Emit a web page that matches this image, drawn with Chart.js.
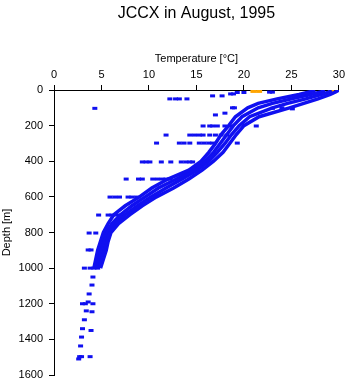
<!doctype html>
<html lang="en">

<head>
    <meta charset="utf-8">
    <title>JCCX in August, 1995</title>
    <script src="https://cdn.jsdelivr.net/npm/chart.js"></script>
    <style>
        body {
            margin: 0;
            background: #ffffff;
        }
    </style>
</head>

<body>
    <canvas id="profile" width="348" height="384"></canvas>

    <script>
        // depth levels [m] shared by the casts
        const depths = [0, 10, 25, 50, 75, 100, 150, 200, 250, 300, 350, 400, 450, 500, 550, 600, 650, 700, 750, 800, 850, 900, 950, 1000];
        // temperature [degC] of four casts at those levels
        const castA = [27.5, 27.0, 25.8, 23.5, 21.5, 20.4, 19.1, 18.4, 17.6, 17.0, 16.3, 15.5, 14.2, 12.0, 10.3, 9.0, 7.5, 6.3, 5.7, 5.2, 4.9, 4.6, 4.4, 4.2];
        const castB = [28.5, 28.2, 27.0, 25.0, 23.0, 21.5, 19.8, 18.9, 18.2, 17.5, 16.8, 15.9, 14.7, 12.9, 11.0, 9.6, 8.2, 7.0, 6.1, 5.5, 5.2, 4.9, 4.6, 4.4];
        const castC = [29.2, 29.0, 28.2, 26.5, 24.6, 23.0, 20.6, 19.5, 18.7, 18.0, 17.2, 16.3, 15.1, 13.5, 11.8, 10.2, 8.8, 7.5, 6.4, 5.8, 5.5, 5.2, 4.9, 4.6];
        const castD = [30.0, 29.7, 29.1, 27.8, 26.3, 24.8, 21.6, 20.0, 19.2, 18.5, 17.8, 16.8, 15.6, 14.2, 12.6, 10.8, 9.3, 8.0, 6.8, 6.0, 5.7, 5.5, 5.2, 4.9];

        // scattered single readings
        const spotTemp = [12.2, 12.8, 13.2, 14.0, 16.7, 17.7, 18.6, 18.9, 19.3, 20.0, 22.7, 23.0, 4.3, 18.8, 17.0, 18.0, 23.0, 24.0, 25.1, 19.0,
            15.7, 16.4, 16.7, 17.2, 18.0, 18.7, 21.3,
            11.8, 14.3, 14.8, 15.3, 15.7, 16.4, 17.0, 17.6, 18.2,
            10.8, 13.2, 13.7, 14.3, 15.3, 15.8, 16.3, 16.7, 19.3,
            9.3, 9.7, 10.1, 11.3, 12.3, 13.4, 13.9, 14.3, 14.6,
            7.6, 8.9, 9.3, 10.4, 10.9, 11.4, 11.8, 12.2,
            5.9, 6.4, 6.9, 7.8, 8.2, 8.7,
            4.7, 5.7, 6.1, 6.5, 6.9,
            3.7, 4.4, 3.6, 3.9, 3.2, 3.8, 4.2, 4.6,
            4.1, 4.0, 3.7, 3.0, 3.3, 3.6, 4.1, 3.4, 4.0, 3.2, 3.0, 3.9, 2.9, 2.8, 2.7, 2.9, 3.8, 2.6];
        const spotDepth = [50, 50, 50, 50, 33, 33, 22, 22, 14, 14, 12, 12, 103, 100, 140, 130, 103, 100, 106, 100,
            202, 202, 202, 202, 202, 202, 202,
            253, 253, 253, 253, 253, 253, 253, 253, 253,
            298, 298, 298, 298, 298, 298, 298, 298, 298,
            404, 404, 404, 404, 404, 404, 404, 404, 404,
            500, 500, 500, 500, 500, 500, 500, 500,
            601, 601, 601, 601, 601, 601,
            702, 702, 702, 702, 702,
            803, 803, 898, 898, 1000, 1000, 1000, 1000,
            1050, 1095, 1145, 1200, 1200, 1190, 1200, 1240, 1245, 1290, 1340, 1350, 1387, 1437, 1497, 1497, 1497, 1510];

        // flagged readings (orange)
        const flagTemp = [21.0, 21.6, 29.2];
        const flagDepth = [8, 8, 5];

        const blue = '#1010f0';
        const orange = '#ffa500';
        const titleText = 'JCCX in August, 1995';

        function toPoints(temps, deps) {
            return temps.map((t, i) => ({ x: t, y: deps[i] }));
        }

        function castSet(temps) {
            return {
                data: toPoints(temps, depths),
                showLine: true,
                borderColor: blue,
                borderWidth: 3.5,
                pointRadius: 0
            };
        }

        const fontFace = "'Liberation Sans', Arial, sans-serif";

        // title centred over the plot area rather than the canvas
        const plotTitle = {
            id: 'plotTitle',
            afterDraw(chart) {
                const c = chart.ctx;
                const area = chart.chartArea;
                c.save();
                c.fillStyle = '#000';
                c.font = '16px ' + fontFace;
                c.textAlign = 'center';
                c.textBaseline = 'middle';
                c.fillText(titleText, (area.left + area.right) / 2, 14);
                c.restore();
            }
        };

        let ctx = document.querySelector('#profile').getContext('2d');
        let chart = new Chart(ctx, {
            type: 'scatter',
            data: {
                datasets: [
                    castSet(castA),
                    castSet(castB),
                    castSet(castC),
                    castSet(castD),
                    {
                        data: toPoints(spotTemp, spotDepth),
                        pointStyle: 'line',
                        pointRadius: 2.5,
                        borderColor: blue,
                        borderWidth: 3
                    },
                    {
                        data: toPoints(flagTemp, flagDepth),
                        pointStyle: 'line',
                        pointRadius: 3,
                        borderColor: orange,
                        borderWidth: 3
                    }
                ]
            },
            plugins: [plotTitle],
            options: {
                responsive: false,
                animation: false,
                layout: {
                    padding: { left: 0, right: 8, top: 0, bottom: 9 }
                },
                plugins: {
                    legend: { display: false },
                    tooltip: { enabled: false },
                    title: { display: false }
                },
                scales: {
                    x: {
                        position: 'top',
                        min: 0,
                        max: 30,
                        afterFit: (scale) => { scale.height = 90; },
                        ticks: {
                            stepSize: 5,
                            color: '#000',
                            padding: 3,
                            maxRotation: 0,
                            font: { family: fontFace, size: 11 }
                        },
                        grid: {
                            drawOnChartArea: false,
                            drawTicks: true,
                            tickLength: 5,
                            tickColor: '#000'
                        },
                        border: { display: true, color: '#000', width: 1 },
                        title: {
                            display: true,
                            text: 'Temperature [°C]',
                            color: '#000',
                            font: { family: fontFace, size: 11 },
                            padding: { top: 52, bottom: 0 }
                        }
                    },
                    y: {
                        reverse: true,
                        min: 0,
                        max: 1600,
                        afterFit: (scale) => {
                            scale.width = 54;
                            scale.paddingTop = 0;
                            scale.paddingBottom = 0;
                        },
                        ticks: {
                            stepSize: 200,
                            color: '#000',
                            padding: 6,
                            font: { family: fontFace, size: 11 },
                            callback: (value) => String(value)
                        },
                        grid: {
                            drawOnChartArea: false,
                            drawTicks: true,
                            tickLength: 5,
                            tickColor: '#000'
                        },
                        border: { display: true, color: '#000', width: 1 },
                        title: {
                            display: true,
                            text: 'Depth [m]',
                            color: '#000',
                            font: { family: fontFace, size: 11 },
                            padding: { top: 0, bottom: 0 }
                        }
                    }
                }
            }
        });
    </script>

</body>

</html>
